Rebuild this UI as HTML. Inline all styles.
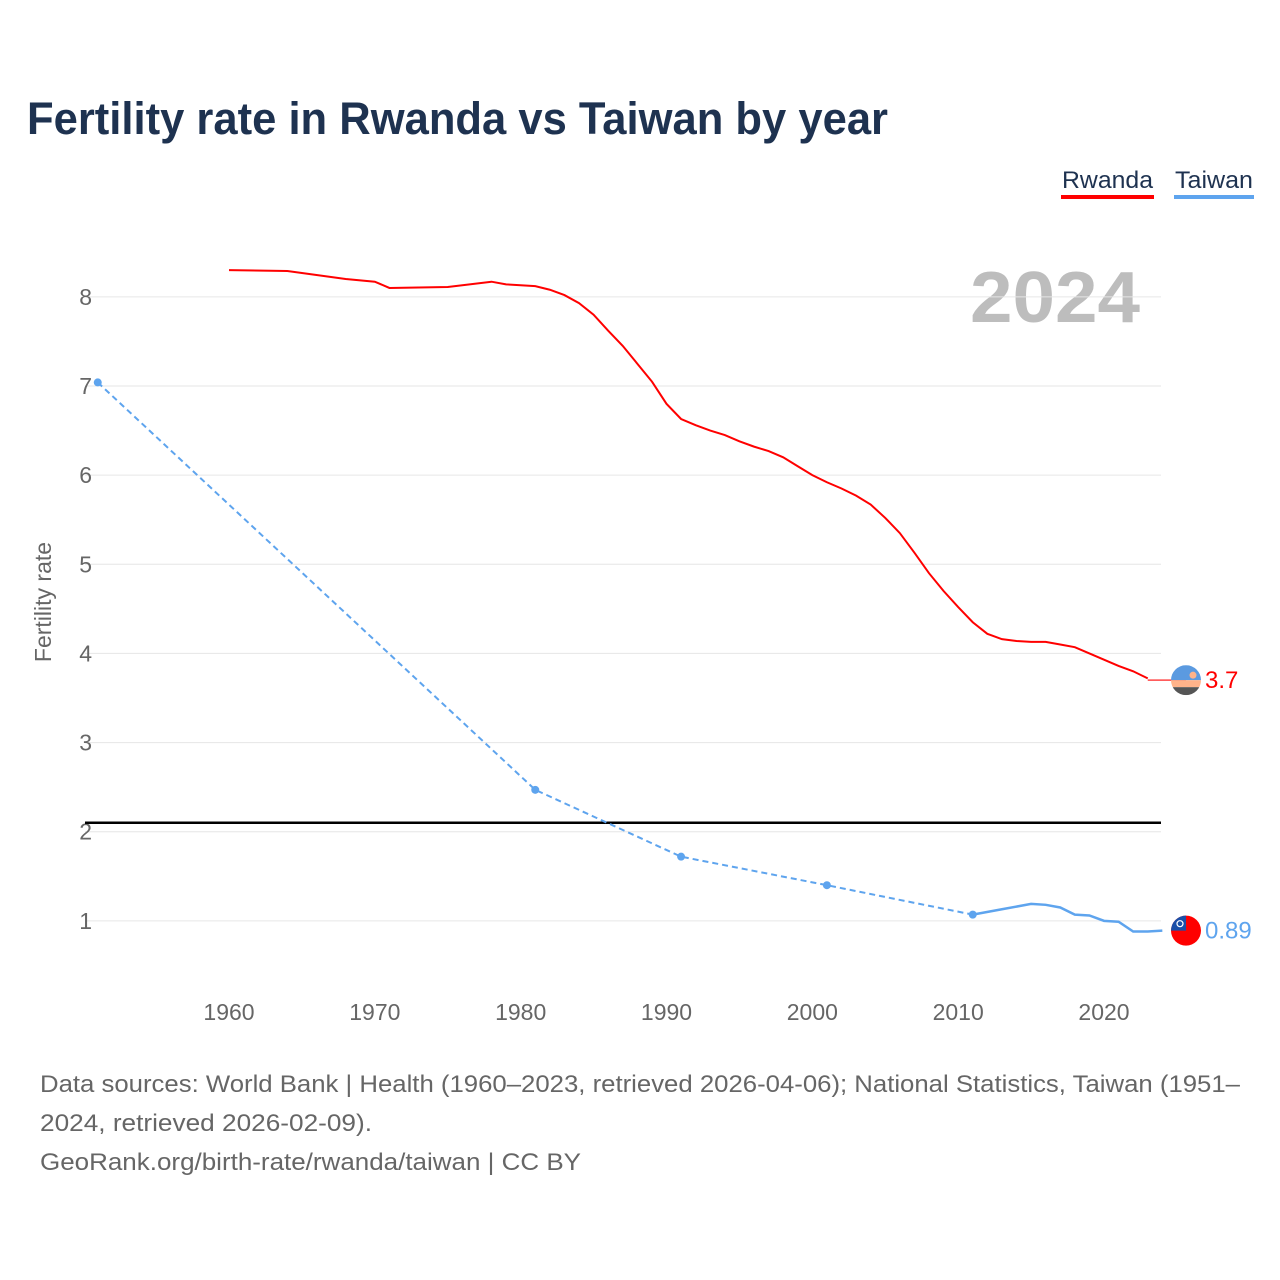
<!DOCTYPE html>
<html><head><meta charset="utf-8">
<style>
body{margin:0;background:#fff;font-family:"Liberation Sans",sans-serif;}
#wrap{position:relative;width:1280px;height:1280px;overflow:hidden;}
</style></head>
<body>
<div id="wrap">
<svg id="chart" width="1280" height="1280">
<text x="27" y="134" font-size="45" font-weight="bold" fill="#1e3250" textLength="861" lengthAdjust="spacingAndGlyphs">Fertility rate in Rwanda vs Taiwan by year</text>
<g><text x="1062" y="188" font-size="24" fill="#1e3250" textLength="91" lengthAdjust="spacingAndGlyphs">Rwanda</text><rect x="1061" y="195" width="93" height="4" fill="#ff0000"/></g>
<g><text x="1175" y="188" font-size="24" fill="#1e3250" textLength="78" lengthAdjust="spacingAndGlyphs">Taiwan</text><rect x="1174" y="195" width="80" height="4" fill="#5ea4ee"/></g>
<text x="1140" y="322" font-size="72" font-weight="bold" fill="#bdbdbd" text-anchor="end" textLength="170" lengthAdjust="spacingAndGlyphs">2024</text>
<text transform="translate(51,602) rotate(-90)" font-size="23" fill="#666" text-anchor="middle">Fertility rate</text>
<g id="grid"></g><g id="marks"></g>
<g font-size="24" fill="#666">
<text x="40" y="1092" textLength="1200" lengthAdjust="spacingAndGlyphs">Data sources: World Bank | Health (1960–2023, retrieved 2026-04-06); National Statistics, Taiwan (1951–</text>
<text x="40" y="1131" textLength="332" lengthAdjust="spacingAndGlyphs">2024, retrieved 2026-02-09).</text>
<text x="40" y="1170" textLength="541" lengthAdjust="spacingAndGlyphs">GeoRank.org/birth-rate/rwanda/taiwan | CC BY</text>
</g>
</svg>
</div>
<script>
const yTicks=[1,2,3,4,5,6,7,8];
const xTicks=[1960,1970,1980,1990,2000,2010,2020];
const rwYears=[1960,1964,1968,1970,1971,1975,1978,1979,1981,1982,1983,1984,1985,1986,1987,1988,1989,1990,1991,1992,1993,1994,1995,1996,1997,1998,1999,2000,2001,2002,2003,2004,2005,2006,2007,2008,2009,2010,2011,2012,2013,2014,2015,2016,2017,2018,2019,2020,2021,2022,2023];
const rwVals=[8.3,8.29,8.2,8.17,8.1,8.11,8.17,8.14,8.12,8.08,8.02,7.93,7.8,7.62,7.45,7.25,7.05,6.8,6.63,6.56,6.5,6.45,6.38,6.32,6.27,6.2,6.1,6.0,5.92,5.85,5.77,5.67,5.52,5.35,5.13,4.9,4.7,4.52,4.35,4.22,4.16,4.14,4.13,4.13,4.1,4.07,4.0,3.93,3.86,3.8,3.72];
const twSparseYears=[1951,1981,1991,2001,2011];
const twSparseVals=[7.04,2.47,1.72,1.40,1.07];
const twYears=[2011,2013,2015,2016,2017,2018,2019,2020,2021,2022,2023,2024];
const twVals=[1.07,1.13,1.19,1.18,1.15,1.07,1.06,1.0,0.99,0.88,0.88,0.89];
const refLine=2.1;
const rwLatest=3.7, twLatest=0.89;

const X=y=>229+(y-1960)*875/60;
const Y=v=>1010-v*624/7;
const NS="http://www.w3.org/2000/svg";
function mk(tag,attrs,parent){const e=document.createElementNS(NS,tag);for(const k in attrs)e.setAttribute(k,attrs[k]);parent.appendChild(e);return e;}
const grid=document.getElementById('grid'),marks=document.getElementById('marks');
yTicks.forEach(t=>{
 const l=mk('line',{x1:85,x2:1161,y1:Y(t),y2:Y(t),stroke:'#e6e6e6','stroke-width':1},grid);
 
 
 const tx=mk('text',{x:92,y:Y(t)+8,'font-size':23,fill:'#666','text-anchor':'end'},grid);tx.textContent=t;
 
 
});
xTicks.forEach(t=>{
 const tx=mk('text',{x:X(t),y:1020,'font-size':23,fill:'#666','text-anchor':'middle'},grid);tx.textContent=t;
 
 
});
const rl=mk('line',{x1:85,x2:1161,y1:Y(refLine),y2:Y(refLine),stroke:'#000','stroke-width':2.5},marks);


const rw=mk('polyline',{points:rwYears.map((y,i)=>X(y)+','+Y(rwVals[i])).join(' '),fill:'none',stroke:'#ff0000','stroke-width':2},marks);


const rwe=mk('line',{x1:X(rwYears[rwYears.length-1]),x2:1186,y1:Y(rwLatest),y2:Y(rwLatest),stroke:'#ff4444','stroke-width':1.5},marks);


const twd=mk('polyline',{points:twSparseYears.map((y,i)=>X(y)+','+Y(twSparseVals[i])).join(' '),fill:'none',stroke:'#5ea4ee','stroke-width':2,'stroke-dasharray':'6,4'},marks);


twSparseYears.forEach((y,i)=>{const c=mk('circle',{cx:X(y),cy:Y(twSparseVals[i]),r:4,fill:'#5ea4ee'},marks);
 
 });
const tw=mk('polyline',{points:twYears.map((y,i)=>X(y)+','+Y(twVals[i])).join(' '),fill:'none',stroke:'#5ea4ee','stroke-width':2.5},marks);


const fy=Y(rwLatest);
const g1=mk('g',{},marks);


mk('clipPath',{id:'c1'},g1).appendChild(document.createElementNS(NS,'circle'));
const c1=g1.querySelector('clipPath circle');c1.setAttribute('cx',1186);c1.setAttribute('cy',fy);c1.setAttribute('r',15);
mk('rect',{x:1171,y:fy-15,width:30,height:15,fill:'#5b9ae0','clip-path':'url(#c1)'},g1);
mk('rect',{x:1171,y:fy,width:30,height:7,fill:'#ffb38a','clip-path':'url(#c1)'},g1);
mk('rect',{x:1171,y:fy+7,width:30,height:8,fill:'#555','clip-path':'url(#c1)'},g1);
mk('circle',{cx:1193,cy:fy-5,r:3.5,fill:'#ffb38a'},g1);
const t1=mk('text',{x:1205,y:fy+8,'font-size':24,fill:'#ff0000'},marks);t1.textContent=rwLatest;


const ty=Y(twLatest);
const g2=mk('g',{},marks);


mk('circle',{cx:1186,cy:ty,r:15,fill:'#fe0000'},g2);
mk('path',{d:`M1186 ${ty} L1186 ${ty-15} A15 15 0 0 0 1171 ${ty} Z`,fill:'#1a4fa8'},g2);
mk('circle',{cx:1180,cy:ty-7,r:3,fill:'none',stroke:'#fff','stroke-width':1.2},g2);
const t2=mk('text',{x:1205,y:ty+8,'font-size':24,fill:'#5ea4ee'},marks);t2.textContent=twLatest;


</script>
</body></html>
